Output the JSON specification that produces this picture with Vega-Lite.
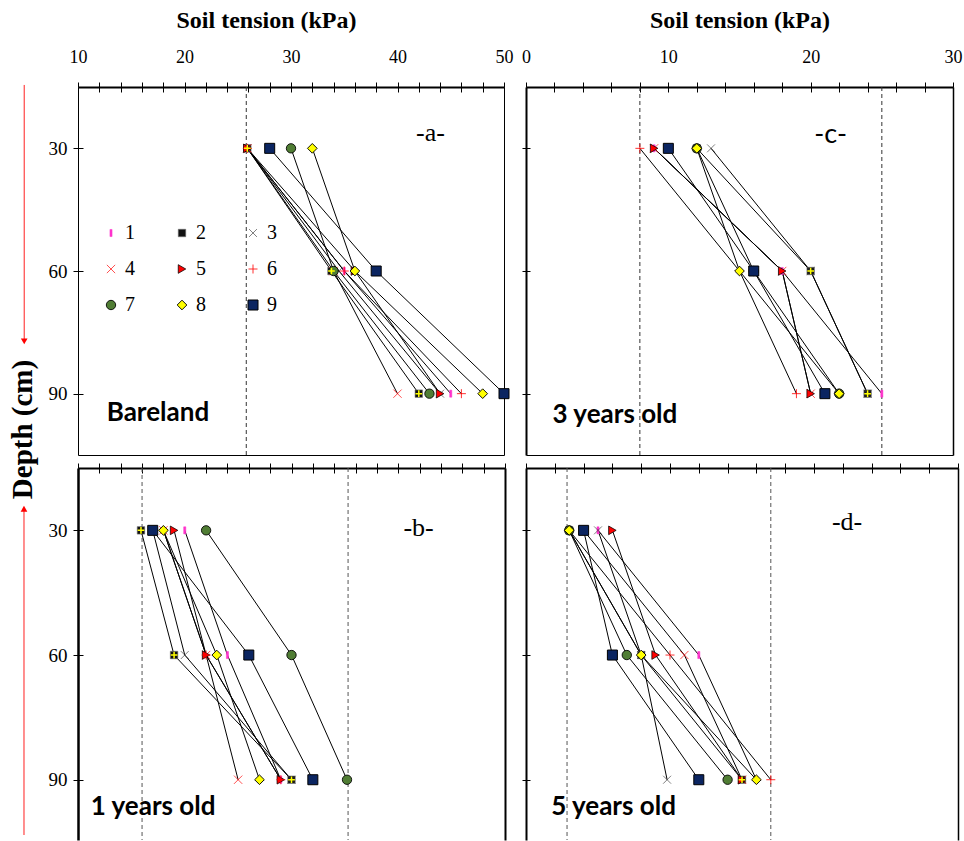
{
  "$schema": "https://vega.github.io/schema/vega-lite/v6.json",
  "padding": {"left": 8, "top": 8, "right": 3, "bottom": 0},
  "background": "white",
  "config": {
    "view": {"stroke": null},
    "font": "Liberation Serif",
    "axis": {"labelColor": "black", "titleColor": "black", "tickColor": "black", "domainColor": "black", "grid": false, "labelFont": "Liberation Serif", "titleFont": "Liberation Serif"},
    "legend": {"labelColor": "black"}
  },
  "datasets": {
    "pts": [
      {"panel": "a", "series": "1", "depth": 30, "tension": 25.9}, {"panel": "a", "series": "1", "depth": 60, "tension": 35}, {"panel": "a", "series": "1", "depth": 90, "tension": 45},
      {"panel": "a", "series": "2", "depth": 30, "tension": 25.9}, {"panel": "a", "series": "2", "depth": 60, "tension": 33.8}, {"panel": "a", "series": "2", "depth": 90, "tension": 42},
      {"panel": "a", "series": "3", "depth": 30, "tension": 25.9}, {"panel": "a", "series": "3", "depth": 60, "tension": 34.5}, {"panel": "a", "series": "3", "depth": 90, "tension": 44},
      {"panel": "a", "series": "4", "depth": 30, "tension": 25.9}, {"panel": "a", "series": "4", "depth": 60, "tension": 34}, {"panel": "a", "series": "4", "depth": 90, "tension": 40},
      {"panel": "a", "series": "5", "depth": 30, "tension": 25.9}, {"panel": "a", "series": "5", "depth": 60, "tension": 36}, {"panel": "a", "series": "5", "depth": 90, "tension": 44},
      {"panel": "a", "series": "6", "depth": 30, "tension": 25.9}, {"panel": "a", "series": "6", "depth": 60, "tension": 35}, {"panel": "a", "series": "6", "depth": 90, "tension": 46},
      {"panel": "a", "series": "7", "depth": 30, "tension": 30}, {"panel": "a", "series": "7", "depth": 60, "tension": 34}, {"panel": "a", "series": "7", "depth": 90, "tension": 43},
      {"panel": "a", "series": "8", "depth": 30, "tension": 32}, {"panel": "a", "series": "8", "depth": 60, "tension": 36}, {"panel": "a", "series": "8", "depth": 90, "tension": 48},
      {"panel": "a", "series": "9", "depth": 30, "tension": 28}, {"panel": "a", "series": "9", "depth": 60, "tension": 38}, {"panel": "a", "series": "9", "depth": 90, "tension": 50},
      {"panel": "b", "series": "1", "depth": 30, "tension": 20}, {"panel": "b", "series": "1", "depth": 60, "tension": 24}, {"panel": "b", "series": "1", "depth": 90, "tension": 29},
      {"panel": "b", "series": "2", "depth": 30, "tension": 15.9}, {"panel": "b", "series": "2", "depth": 60, "tension": 19}, {"panel": "b", "series": "2", "depth": 90, "tension": 30},
      {"panel": "b", "series": "3", "depth": 30, "tension": 17}, {"panel": "b", "series": "3", "depth": 60, "tension": 20}, {"panel": "b", "series": "3", "depth": 90, "tension": 30},
      {"panel": "b", "series": "4", "depth": 30, "tension": 18}, {"panel": "b", "series": "4", "depth": 60, "tension": 22}, {"panel": "b", "series": "4", "depth": 90, "tension": 25},
      {"panel": "b", "series": "5", "depth": 30, "tension": 19}, {"panel": "b", "series": "5", "depth": 60, "tension": 22}, {"panel": "b", "series": "5", "depth": 90, "tension": 29},
      {"panel": "b", "series": "6", "depth": 30, "tension": 18}, {"panel": "b", "series": "6", "depth": 60, "tension": 22}, {"panel": "b", "series": "6", "depth": 90, "tension": 29},
      {"panel": "b", "series": "7", "depth": 30, "tension": 22}, {"panel": "b", "series": "7", "depth": 60, "tension": 30}, {"panel": "b", "series": "7", "depth": 90, "tension": 35.2},
      {"panel": "b", "series": "8", "depth": 30, "tension": 18}, {"panel": "b", "series": "8", "depth": 60, "tension": 23}, {"panel": "b", "series": "8", "depth": 90, "tension": 27},
      {"panel": "b", "series": "9", "depth": 30, "tension": 17}, {"panel": "b", "series": "9", "depth": 60, "tension": 26}, {"panel": "b", "series": "9", "depth": 90, "tension": 32},
      {"panel": "c", "series": "1", "depth": 30, "tension": 9}, {"panel": "c", "series": "1", "depth": 60, "tension": 18}, {"panel": "c", "series": "1", "depth": 90, "tension": 25},
      {"panel": "c", "series": "2", "depth": 30, "tension": 12}, {"panel": "c", "series": "2", "depth": 60, "tension": 20}, {"panel": "c", "series": "2", "depth": 90, "tension": 24},
      {"panel": "c", "series": "3", "depth": 30, "tension": 13}, {"panel": "c", "series": "3", "depth": 60, "tension": 20}, {"panel": "c", "series": "3", "depth": 90, "tension": 24},
      {"panel": "c", "series": "4", "depth": 30, "tension": 9}, {"panel": "c", "series": "4", "depth": 60, "tension": 18}, {"panel": "c", "series": "4", "depth": 90, "tension": 20},
      {"panel": "c", "series": "5", "depth": 30, "tension": 9}, {"panel": "c", "series": "5", "depth": 60, "tension": 18}, {"panel": "c", "series": "5", "depth": 90, "tension": 20},
      {"panel": "c", "series": "6", "depth": 30, "tension": 8}, {"panel": "c", "series": "6", "depth": 60, "tension": 15}, {"panel": "c", "series": "6", "depth": 90, "tension": 19},
      {"panel": "c", "series": "7", "depth": 30, "tension": 12}, {"panel": "c", "series": "7", "depth": 60, "tension": 16}, {"panel": "c", "series": "7", "depth": 90, "tension": 22},
      {"panel": "c", "series": "8", "depth": 30, "tension": 12}, {"panel": "c", "series": "8", "depth": 60, "tension": 15}, {"panel": "c", "series": "8", "depth": 90, "tension": 22},
      {"panel": "c", "series": "9", "depth": 30, "tension": 10}, {"panel": "c", "series": "9", "depth": 60, "tension": 16}, {"panel": "c", "series": "9", "depth": 90, "tension": 21},
      {"panel": "d", "series": "1", "depth": 30, "tension": 5}, {"panel": "d", "series": "1", "depth": 60, "tension": 12}, {"panel": "d", "series": "1", "depth": 90, "tension": 16},
      {"panel": "d", "series": "2", "depth": 30, "tension": 3}, {"panel": "d", "series": "2", "depth": 60, "tension": 8}, {"panel": "d", "series": "2", "depth": 90, "tension": 15},
      {"panel": "d", "series": "3", "depth": 30, "tension": 5}, {"panel": "d", "series": "3", "depth": 60, "tension": 8}, {"panel": "d", "series": "3", "depth": 90, "tension": 9.8},
      {"panel": "d", "series": "4", "depth": 30, "tension": 4}, {"panel": "d", "series": "4", "depth": 60, "tension": 11}, {"panel": "d", "series": "4", "depth": 90, "tension": 15},
      {"panel": "d", "series": "5", "depth": 30, "tension": 6}, {"panel": "d", "series": "5", "depth": 60, "tension": 9}, {"panel": "d", "series": "5", "depth": 90, "tension": 15},
      {"panel": "d", "series": "6", "depth": 30, "tension": 3}, {"panel": "d", "series": "6", "depth": 60, "tension": 10}, {"panel": "d", "series": "6", "depth": 90, "tension": 17},
      {"panel": "d", "series": "7", "depth": 30, "tension": 3}, {"panel": "d", "series": "7", "depth": 60, "tension": 7}, {"panel": "d", "series": "7", "depth": 90, "tension": 14},
      {"panel": "d", "series": "8", "depth": 30, "tension": 3}, {"panel": "d", "series": "8", "depth": 60, "tension": 8}, {"panel": "d", "series": "8", "depth": 90, "tension": 16},
      {"panel": "d", "series": "9", "depth": 30, "tension": 4}, {"panel": "d", "series": "9", "depth": 60, "tension": 6}, {"panel": "d", "series": "9", "depth": 90, "tension": 12}
    ],
    "dash": [
      {"panel": "a", "tension": 25.8},
      {"panel": "b", "tension": 16}, {"panel": "b", "tension": 35.3},
      {"panel": "c", "tension": 8}, {"panel": "c", "tension": 25},
      {"panel": "d", "tension": 2.85}, {"panel": "d", "tension": 17}
    ],
    "one": [{}]
  },
  "columns": 2,
  "align": "each",
  "bounds": "flush",
  "spacing": {"row": 13, "column": 21},
  "concat": [
    {
      "width": 426, "height": 368,
      "resolve": {"axis": {"x": "independent", "y": "independent"}},
      "layer": [
        {
          "data": {"name": "dash"}, "transform": [{"filter": "datum.panel === 'a'"}],
          "mark": {"type": "rule", "strokeDash": [4, 3], "color": "#333333", "strokeWidth": 1},
          "encoding": {
            "x": {"field": "tension", "type": "quantitative", "scale": {"domain": [10, 50], "nice": false, "zero": false},
              "axis": {"orient": "top", "values": [10,12,14,16,18,20,22,24,26,28,30,32,34,36,38,40,42,44,46,48,50], "labelExpr": "datum.value % 10 === 0 ? datum.label : ''", "labelFlush": false, "labelOverlap": false, "labelFontSize": 18, "labelPadding": 16, "tickSize": 5, "domainWidth": 2, "title": "Soil tension (kPa)", "titleFontSize": 24, "titleFontWeight": "bold", "titleX": 188, "titlePadding": 16}}
          }
        },
        {
          "data": {"name": "pts"}, "transform": [{"filter": "datum.panel === 'a'"}],
          "mark": {"type": "line", "color": "black", "strokeWidth": 1},
          "encoding": {
            "x": {"field": "tension", "type": "quantitative", "axis": {"orient": "top", "values": [10,12,14,16,18,20,22,24,26,28,30,32,34,36,38,40,42,44,46,48,50], "tickSize": -5, "labels": false, "domain": false, "title": null}},
            "y": {"field": "depth", "type": "quantitative", "scale": {"domain": [15, 105], "reverse": true, "nice": false, "zero": false},
              "axis": {"orient": "left", "values": [30, 60, 90], "labelFontSize": 19, "labelPadding": 6, "tickSize": 5, "domainWidth": 1, "title": "Depth (cm)", "titleFontSize": 29, "titleFontWeight": "bold", "titleX": -56, "titleY": 342, "titleBaseline": "middle"}},
            "detail": {"field": "series", "type": "nominal"},
            "order": {"field": "depth", "type": "quantitative"}
          }
        },
        {
          "data": {"name": "pts"}, "transform": [{"filter": "datum.panel === 'a'"}],
          "mark": {"type": "point", "filled": true, "opacity": 1},
          "encoding": {
            "x": {"field": "tension", "type": "quantitative", "axis": {"orient": "bottom", "ticks": false, "labels": false, "domainWidth": 1, "title": null}},
            "y": {"field": "depth", "type": "quantitative", "axis": {"orient": "left", "values": [30, 60, 90], "tickSize": -5, "labels": false, "domain": false, "title": null}},
            "shape": {"field": "series", "type": "nominal",
              "scale": {"domain": ["1","2","3","4","5","6","7","8","9"], "range": ["M-0.3,-1L0.3,-1L0.3,1L-0.3,1Z", "square", "M-1,-1L1,1M-1,1L1,-1", "M-1,-1L1,1M-1,1L1,-1", "triangle-right", "M-1,0L1,0M0,-1L0,1", "circle", "diamond", "square"]},
              "legend": {"orient": "none", "legendX": 23, "legendY": 136, "columns": 3, "direction": "horizontal", "title": null, "labelFont": "Liberation Serif", "labelFontSize": 20, "labelOffset": 4, "columnPadding": 37, "rowPadding": 16, "padding": 0}},
            "fill": {"field": "series", "type": "nominal",
              "scale": {"domain": ["1","2","3","4","5","6","7","8","9"], "range": ["#FF33CC", "#111111", "transparent", "transparent", "#FF0000", "transparent", "#507D34", "#FFFF00", "#0B2561"]},
              "legend": {"orient": "none", "legendX": 23, "legendY": 136, "columns": 3, "direction": "horizontal", "title": null, "labelFont": "Liberation Serif", "labelFontSize": 20, "labelOffset": 4, "columnPadding": 37, "rowPadding": 16, "padding": 0}},
            "stroke": {"field": "series", "type": "nominal",
              "scale": {"domain": ["1","2","3","4","5","6","7","8","9"], "range": ["#FF33CC", "#777777", "#333333", "#FF0000", "#000000", "#FF0000", "#000000", "#000000", "#000000"]},
              "legend": {"orient": "none", "legendX": 23, "legendY": 136, "columns": 3, "direction": "horizontal", "title": null, "labelFont": "Liberation Serif", "labelFontSize": 20, "labelOffset": 4, "columnPadding": 37, "rowPadding": 16, "padding": 0}},
            "size": {"field": "series", "type": "nominal",
              "scale": {"domain": ["1","2","3","4","5","6","7","8","9"], "range": [50, 100, 80, 90, 200, 110, 150, 135, 150]},
              "legend": {"orient": "none", "legendX": 23, "legendY": 136, "columns": 3, "direction": "horizontal", "title": null, "labelFont": "Liberation Serif", "labelFontSize": 20, "labelOffset": 4, "columnPadding": 37, "rowPadding": 16, "padding": 0}},
            "strokeWidth": {"field": "series", "type": "nominal",
              "scale": {"domain": ["1","2","3","4","5","6","7","8","9"], "range": [0.5, 1, 1, 1.2, 0.8, 2.5, 0.8, 0.8, 0.8]},
              "legend": {"orient": "none", "legendX": 23, "legendY": 136, "columns": 3, "direction": "horizontal", "title": null, "labelFont": "Liberation Serif", "labelFontSize": 20, "labelOffset": 4, "columnPadding": 37, "rowPadding": 16, "padding": 0}}
          }
        },
        {
          "data": {"name": "pts"}, "transform": [{"filter": "datum.panel === 'a' && datum.series === '2'"}],
          "mark": {"type": "point", "shape": "M-1,0L1,0M0,-1L0,1", "filled": false, "stroke": "#FFFF00", "strokeWidth": 1.5, "size": 45, "opacity": 1},
          "encoding": {
            "x": {"field": "tension", "type": "quantitative", "axis": null},
            "y": {"field": "depth", "type": "quantitative", "axis": {"orient": "right", "ticks": false, "labels": false, "domainWidth": 1, "title": null}}
          }
        },
        {
          "data": {"name": "one"},
          "mark": {"type": "text", "text": "-a-", "font": "Liberation Serif", "fontSize": 26, "align": "center", "baseline": "middle", "color": "black"},
          "encoding": {"x": {"datum": 43.1, "type": "quantitative", "axis": null}, "y": {"datum": 26.3, "type": "quantitative", "axis": null}}
        },
        {
          "data": {"name": "one"},
          "mark": {"type": "text", "text": "Bareland", "font": "Lato", "fontWeight": "bold", "fontSize": 26, "align": "left", "baseline": "middle", "color": "black"},
          "encoding": {"x": {"datum": 12.7, "type": "quantitative", "axis": null}, "y": {"datum": 94.8, "type": "quantitative", "axis": null}}
        },
        {
          "data": {"name": "one"},
          "mark": {"type": "rule", "color": "#FF2020", "strokeWidth": 1},
          "encoding": {"x": {"datum": 4.95, "type": "quantitative", "axis": null}, "y": {"datum": 14.5, "type": "quantitative", "axis": null}, "y2": {"datum": 77}}
        },
        {
          "data": {"name": "one"},
          "mark": {"type": "point", "shape": "triangle-down", "filled": true, "color": "#FF0000", "size": 45, "opacity": 1},
          "encoding": {"x": {"datum": 4.95, "type": "quantitative", "axis": null}, "y": {"datum": 77.2, "type": "quantitative", "axis": null}}
        }
      ]
    },
    {
      "width": 427, "height": 368,
      "resolve": {"axis": {"x": "independent", "y": "independent"}},
      "layer": [
        {
          "data": {"name": "dash"}, "transform": [{"filter": "datum.panel === 'c'"}],
          "mark": {"type": "rule", "strokeDash": [4, 3], "color": "#333333", "strokeWidth": 1},
          "encoding": {
            "x": {"field": "tension", "type": "quantitative", "scale": {"domain": [0, 30], "nice": false, "zero": false},
              "axis": {"orient": "top", "values": [0,2,4,6,8,10,12,14,16,18,20,22,24,26,28,30], "labelExpr": "datum.value % 10 === 0 ? datum.label : ''", "labelFlush": false, "labelOverlap": false, "labelFontSize": 18, "labelPadding": 16, "tickSize": 5, "domainWidth": 2, "title": "Soil tension (kPa)", "titleFontSize": 24, "titleFontWeight": "bold", "titlePadding": 16}}
          }
        },
        {
          "data": {"name": "pts"}, "transform": [{"filter": "datum.panel === 'c'"}],
          "mark": {"type": "line", "color": "black", "strokeWidth": 1},
          "encoding": {
            "x": {"field": "tension", "type": "quantitative", "axis": {"orient": "top", "values": [0,2,4,6,8,10,12,14,16,18,20,22,24,26,28,30], "tickSize": -5, "labels": false, "domain": false, "title": null}},
            "y": {"field": "depth", "type": "quantitative", "scale": {"domain": [15, 105], "reverse": true, "nice": false, "zero": false},
              "axis": {"orient": "left", "values": [30, 60, 90], "labels": false, "tickSize": 4, "domainWidth": 2, "title": null}},
            "detail": {"field": "series", "type": "nominal"},
            "order": {"field": "depth", "type": "quantitative"}
          }
        },
        {
          "data": {"name": "pts"}, "transform": [{"filter": "datum.panel === 'c'"}],
          "mark": {"type": "point", "filled": true, "opacity": 1},
          "encoding": {
            "x": {"field": "tension", "type": "quantitative", "axis": {"orient": "bottom", "ticks": false, "labels": false, "domainWidth": 1, "title": null}},
            "y": {"field": "depth", "type": "quantitative", "axis": {"orient": "left", "values": [30, 60, 90], "tickSize": -4, "labels": false, "domain": false, "title": null}},
            "shape": {"field": "series", "type": "nominal", "legend": null},
            "fill": {"field": "series", "type": "nominal", "legend": null},
            "stroke": {"field": "series", "type": "nominal", "legend": null},
            "size": {"field": "series", "type": "nominal", "legend": null},
            "strokeWidth": {"field": "series", "type": "nominal", "legend": null}
          }
        },
        {
          "data": {"name": "pts"}, "transform": [{"filter": "datum.panel === 'c' && datum.series === '2'"}],
          "mark": {"type": "point", "shape": "M-1,0L1,0M0,-1L0,1", "filled": false, "stroke": "#FFFF00", "strokeWidth": 1.5, "size": 45, "opacity": 1},
          "encoding": {
            "x": {"field": "tension", "type": "quantitative", "axis": null},
            "y": {"field": "depth", "type": "quantitative", "axis": {"orient": "right", "ticks": false, "labels": false, "domainWidth": 1.5, "title": null}}
          }
        },
        {
          "data": {"name": "one"},
          "mark": {"type": "text", "text": "-c-", "font": "Lato", "fontSize": 27, "align": "center", "baseline": "middle", "color": "black"},
          "encoding": {"x": {"datum": 21.4, "type": "quantitative", "axis": null}, "y": {"datum": 26.7, "type": "quantitative", "axis": null}}
        },
        {
          "data": {"name": "one"},
          "mark": {"type": "text", "text": "3 years old", "font": "Lato", "fontWeight": "bold", "fontSize": 26, "align": "left", "baseline": "middle", "color": "black"},
          "encoding": {"x": {"datum": 1.87, "type": "quantitative", "axis": null}, "y": {"datum": 95.3, "type": "quantitative", "axis": null}}
        }
      ]
    },
    {
      "width": 427, "height": 372,
      "resolve": {"axis": {"x": "independent", "y": "independent"}},
      "layer": [
        {
          "data": {"name": "dash"}, "transform": [{"filter": "datum.panel === 'b'"}],
          "mark": {"type": "rule", "strokeDash": [4, 3], "color": "#555555", "strokeWidth": 1},
          "encoding": {
            "x": {"field": "tension", "type": "quantitative", "scale": {"domain": [10, 50], "nice": false, "zero": false},
              "axis": {"orient": "top", "values": [10,12,14,16,18,20,22,24,26,28,30,32,34,36,38,40,42,44,46,48,50], "labels": false, "tickSize": 5, "domainWidth": 2, "title": null}}
          }
        },
        {
          "data": {"name": "pts"}, "transform": [{"filter": "datum.panel === 'b'"}],
          "mark": {"type": "line", "color": "black", "strokeWidth": 1},
          "encoding": {
            "x": {"field": "tension", "type": "quantitative", "axis": {"orient": "top", "values": [10,12,14,16,18,20,22,24,26,28,30,32,34,36,38,40,42,44,46,48,50], "tickSize": -5, "labels": false, "domain": false, "title": null}},
            "y": {"field": "depth", "type": "quantitative", "scale": {"domain": [15, 104.5], "reverse": true, "nice": false, "zero": false},
              "axis": {"orient": "left", "values": [30, 60, 90], "labelFontSize": 19, "labelPadding": 6, "tickSize": 5, "domainWidth": 2.5, "title": null}},
            "detail": {"field": "series", "type": "nominal"},
            "order": {"field": "depth", "type": "quantitative"}
          }
        },
        {
          "data": {"name": "pts"}, "transform": [{"filter": "datum.panel === 'b'"}],
          "mark": {"type": "point", "filled": true, "opacity": 1},
          "encoding": {
            "x": {"field": "tension", "type": "quantitative", "axis": null},
            "y": {"field": "depth", "type": "quantitative", "axis": {"orient": "left", "values": [30, 60, 90], "tickSize": -5, "labels": false, "domain": false, "title": null}},
            "shape": {"field": "series", "type": "nominal", "legend": null},
            "fill": {"field": "series", "type": "nominal", "legend": null},
            "stroke": {"field": "series", "type": "nominal", "legend": null},
            "size": {"field": "series", "type": "nominal", "legend": null},
            "strokeWidth": {"field": "series", "type": "nominal", "legend": null}
          }
        },
        {
          "data": {"name": "pts"}, "transform": [{"filter": "datum.panel === 'b' && datum.series === '2'"}],
          "mark": {"type": "point", "shape": "M-1,0L1,0M0,-1L0,1", "filled": false, "stroke": "#FFFF00", "strokeWidth": 1.5, "size": 45, "opacity": 1},
          "encoding": {
            "x": {"field": "tension", "type": "quantitative", "axis": null},
            "y": {"field": "depth", "type": "quantitative", "axis": {"orient": "right", "ticks": false, "labels": false, "domainWidth": 2, "title": null}}
          }
        },
        {
          "data": {"name": "one"},
          "mark": {"type": "text", "text": "-b-", "font": "Liberation Serif", "fontSize": 26, "align": "center", "baseline": "middle", "color": "black"},
          "encoding": {"x": {"datum": 41.9, "type": "quantitative", "axis": null}, "y": {"datum": 29.5, "type": "quantitative", "axis": null}}
        },
        {
          "data": {"name": "one"},
          "mark": {"type": "text", "text": "1 years old", "font": "Lato", "fontWeight": "bold", "fontSize": 26, "align": "left", "baseline": "middle", "color": "black"},
          "encoding": {"x": {"datum": 11.2, "type": "quantitative", "axis": null}, "y": {"datum": 96.5, "type": "quantitative", "axis": null}}
        },
        {
          "data": {"name": "one"},
          "mark": {"type": "rule", "color": "#FF2020", "strokeWidth": 1},
          "encoding": {"x": {"datum": 4.94, "type": "quantitative", "axis": null}, "y": {"datum": 25, "type": "quantitative", "axis": null}, "y2": {"datum": 103.3}}
        },
        {
          "data": {"name": "one"},
          "mark": {"type": "point", "shape": "triangle-up", "filled": true, "color": "#FF0000", "size": 45, "opacity": 1},
          "encoding": {"x": {"datum": 4.94, "type": "quantitative", "axis": null}, "y": {"datum": 24.8, "type": "quantitative", "axis": null}}
        }
      ]
    },
    {
      "width": 432, "height": 372,
      "resolve": {"axis": {"x": "independent", "y": "independent"}},
      "layer": [
        {
          "data": {"name": "dash"}, "transform": [{"filter": "datum.panel === 'd'"}],
          "mark": {"type": "rule", "strokeDash": [4, 3], "color": "#555555", "strokeWidth": 1},
          "encoding": {
            "x": {"field": "tension", "type": "quantitative", "scale": {"domain": [0, 30], "nice": false, "zero": false},
              "axis": {"orient": "top", "values": [0,2,4,6,8,10,12,14,16,18,20,22,24,26,28,30], "labels": false, "tickSize": 5, "domainWidth": 2, "title": null}}
          }
        },
        {
          "data": {"name": "pts"}, "transform": [{"filter": "datum.panel === 'd'"}],
          "mark": {"type": "line", "color": "black", "strokeWidth": 1},
          "encoding": {
            "x": {"field": "tension", "type": "quantitative", "axis": {"orient": "top", "values": [0,2,4,6,8,10,12,14,16,18,20,22,24,26,28,30], "tickSize": -5, "labels": false, "domain": false, "title": null}},
            "y": {"field": "depth", "type": "quantitative", "scale": {"domain": [15, 104.5], "reverse": true, "nice": false, "zero": false},
              "axis": {"orient": "left", "values": [30, 60, 90], "labels": false, "tickSize": 4, "domainWidth": 2, "title": null}},
            "detail": {"field": "series", "type": "nominal"},
            "order": {"field": "depth", "type": "quantitative"}
          }
        },
        {
          "data": {"name": "pts"}, "transform": [{"filter": "datum.panel === 'd'"}],
          "mark": {"type": "point", "filled": true, "opacity": 1},
          "encoding": {
            "x": {"field": "tension", "type": "quantitative", "axis": null},
            "y": {"field": "depth", "type": "quantitative", "axis": {"orient": "left", "values": [30, 60, 90], "tickSize": -4, "labels": false, "domain": false, "title": null}},
            "shape": {"field": "series", "type": "nominal", "legend": null},
            "fill": {"field": "series", "type": "nominal", "legend": null},
            "stroke": {"field": "series", "type": "nominal", "legend": null},
            "size": {"field": "series", "type": "nominal", "legend": null},
            "strokeWidth": {"field": "series", "type": "nominal", "legend": null}
          }
        },
        {
          "data": {"name": "pts"}, "transform": [{"filter": "datum.panel === 'd' && datum.series === '2'"}],
          "mark": {"type": "point", "shape": "M-1,0L1,0M0,-1L0,1", "filled": false, "stroke": "#FFFF00", "strokeWidth": 1.5, "size": 45, "opacity": 1},
          "encoding": {
            "x": {"field": "tension", "type": "quantitative", "axis": null},
            "y": {"field": "depth", "type": "quantitative", "axis": {"orient": "right", "ticks": false, "labels": false, "domainWidth": 1.5, "title": null}}
          }
        },
        {
          "data": {"name": "one"},
          "mark": {"type": "text", "text": "-d-", "font": "Liberation Serif", "fontSize": 26, "align": "center", "baseline": "middle", "color": "black"},
          "encoding": {"x": {"datum": 22.3, "type": "quantitative", "axis": null}, "y": {"datum": 28, "type": "quantitative", "axis": null}}
        },
        {
          "data": {"name": "one"},
          "mark": {"type": "text", "text": "5 years old", "font": "Lato", "fontWeight": "bold", "fontSize": 26, "align": "left", "baseline": "middle", "color": "black"},
          "encoding": {"x": {"datum": 1.75, "type": "quantitative", "axis": null}, "y": {"datum": 96.5, "type": "quantitative", "axis": null}}
        }
      ]
    }
  ]
}
